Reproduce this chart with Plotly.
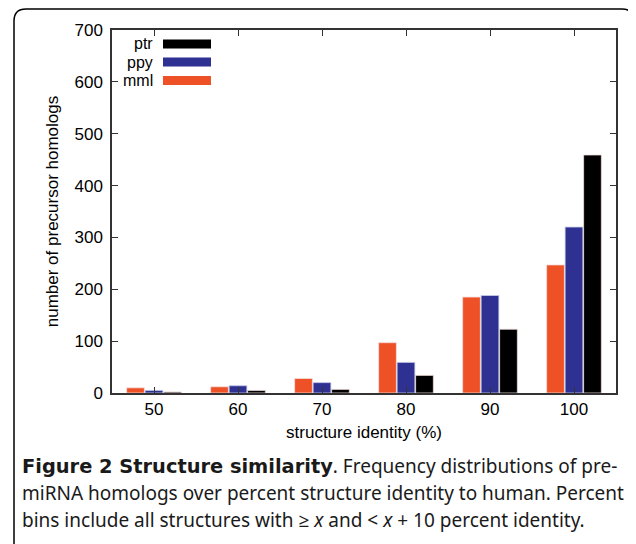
import plotly.graph_objects as go

categories = [50, 60, 70, 80, 90, 100]
mml = [10, 12, 28, 97, 185, 247]
ppy = [5, 14, 20, 59, 188, 320]
ptr = [2, 5, 7, 34, 123, 459]
series_names = ["mml", "ppy", "ptr"]
colors = {"mml": "#EF5126", "ppy": "#2E3192", "ptr": "#000000"}
y_ticks = [0, 100, 200, 300, 400, 500, 600, 700]

W, H = 636, 544
O = 8  # page body offset
L, R, T, B = 112 - O, 616 - O, 30 - O, 393 - O

def px(x):
    return (x - O - L) / (R - L)

def py(y):
    return (B - (y - O)) / (B - T)

fig = go.Figure()
for name, vals in zip(series_names, [mml, ppy, ptr]):
    fig.add_trace(go.Bar(
        x=categories, y=vals, name=name,
        marker=dict(color=colors[name], line=dict(color="#f4dede" if name != "ppy" else "#c8cbe8", width=0.8)),
        showlegend=False,
    ))

axis_font = dict(family="Liberation Sans, Arial, sans-serif", size=17, color="#000")

fig.update_layout(
    width=W, height=H,
    margin=dict(l=L, r=W - R, t=T, b=H - B),
    paper_bgcolor="white", plot_bgcolor="white",
    barmode="group", bargap=0.34, bargroupgap=0.04,
    font=axis_font,
    xaxis=dict(
        range=[45, 105], tickvals=categories, ticktext=[str(c) for c in categories],
        ticks="inside", ticklen=6, tickcolor="#333", mirror="ticks",
        showline=True, linecolor="#333", linewidth=1.5, showgrid=False, zeroline=False,
        title=dict(text="structure identity (%)", font=dict(size=17), standoff=8),
        tickfont=dict(size=17),
    ),
    yaxis=dict(
        range=[0, 700], tickvals=y_ticks,
        ticks="inside", ticklen=6, tickcolor="#333", mirror="ticks",
        showline=True, linecolor="#333", linewidth=1.5, showgrid=False, zeroline=False,
        title=dict(text="number of precursor homologs", font=dict(size=17), standoff=12),
        tickfont=dict(size=17), ticklabelstandoff=4,
    ),
)

# manual legend (text left of swatch)
leg_rows = [("ptr", 43.5), ("ppy", 61.5), ("mml", 80)]
for name, yc in leg_rows:
    fig.add_annotation(x=px(154), y=py(yc), xref="paper", yref="paper", text=name,
                       showarrow=False, xanchor="right", yanchor="middle",
                       height=18, valign="middle", borderpad=0,
                       font=dict(size=16, family="Liberation Sans, Arial, sans-serif"))
    fig.add_shape(type="rect", xref="paper", yref="paper",
                  x0=px(163), x1=px(211), y0=py(yc - 4), y1=py(yc + 5),
                  fillcolor=colors[name], line=dict(width=0))

# outer rounded frame
x0, y0, x1, y1, r = 14, 9, 634, 560, 12
path = (f"M {px(x0)},{py(y0 + r)} L {px(x0)},{py(y1)} L {px(x1)},{py(y1)} "
        f"L {px(x1)},{py(y0 + r)} Q {px(x1)},{py(y0)} {px(x1 - r)},{py(y0)} "
        f"L {px(x0 + r)},{py(y0)} Q {px(x0)},{py(y0)} {px(x0)},{py(y0 + r)}")
fig.add_shape(type="path", xref="paper", yref="paper", path=path,
              line=dict(color="#000", width=1.5))

cap_font = dict(family="Noto Sans, Open Sans, sans-serif", size=19, color="#1a1a1a")
bold_open = "<span style='font-family:DejaVu Sans;font-size:19.4px'><b>"
caption_lines = [
    (bold_open + "Figure 2 Structure similarity</b></span>. Frequency distributions of pre-", 466),
    ("miRNA homologs over percent structure identity to human. Percent", 493),
    ("bins include all structures with ≥ <i>x</i> and &lt; <i>x</i> + 10 percent identity.", 520),
]
for text, yc in caption_lines:
    fig.add_annotation(x=px(20), y=py(yc), xref="paper", yref="paper", text=text,
                       showarrow=False, xanchor="left", yanchor="middle", font=cap_font)

fig.write_html("out.html")
